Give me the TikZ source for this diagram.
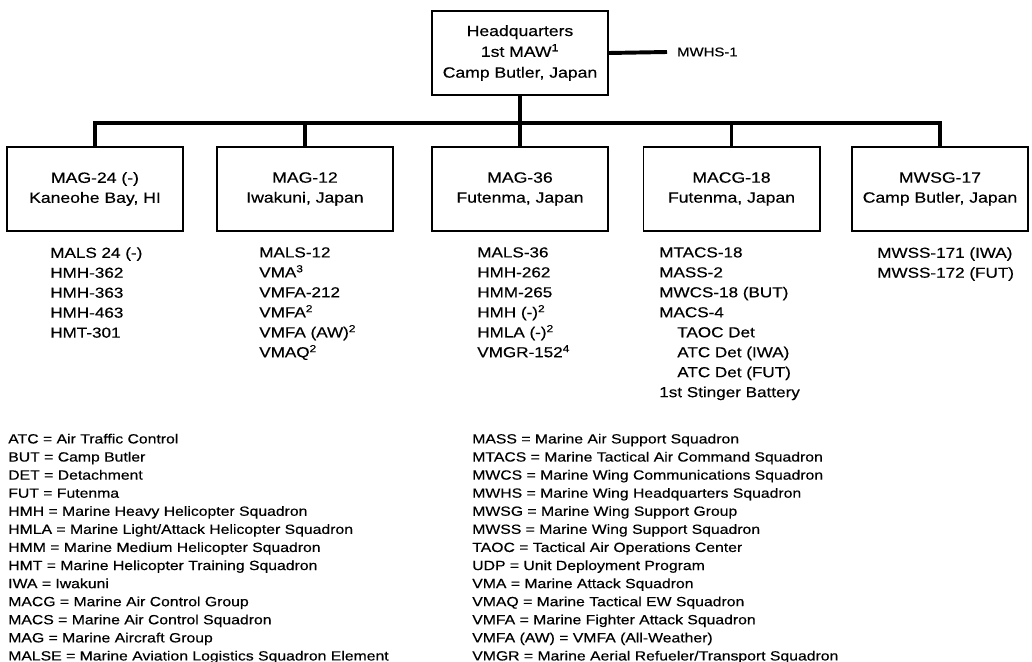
\documentclass[tikz,border=0pt]{standalone}
\usepackage{fontspec}
\setmainfont{Liberation Sans}[FakeStretch=1.18, FakeBold=0.4]

\tikzset{
  unitbox/.style={draw, rectangle, line width=1.4pt, minimum width=4.4cm, minimum height=2.1cm, align=center, font=\fontsize{10.6}{14.2}\selectfont},
  unitlist/.style={anchor=north west, align=left, inner sep=0pt, font=\fontsize{10.3}{14.2}\selectfont},
  keylist/.style={anchor=north west, align=left, inner sep=0pt, font=\fontsize{9.5}{12.86}\selectfont},
  orgline/.style={line width=2.8pt},
}

\begin{document}
\begin{tikzpicture}[x=0.025cm, y=-0.025cm]
\useasboundingbox (0,0) rectangle (1032,662);

% wing headquarters
\node[unitbox, font=\fontsize{10.6}{14.8}\selectfont] (hq) at (520,53) {Headquarters\\1st MAW\textsuperscript{1}\\Camp Butler, Japan};
\node[anchor=west, inner xsep=7pt, inner ysep=0pt, font=\fontsize{9}{11}\selectfont] (mwhs) at (667,52) {MWHS-1};
\draw[orgline] (hq.east) -- (mwhs.west);

% groups
\node[unitbox] (mag24) at (95,189) {MAG-24 (-)\\Kaneohe Bay, HI};
\node[unitbox] (mag12) at (305,189) {MAG-12\\Iwakuni, Japan};
\node[unitbox] (mag36) at (520,189) {MAG-36\\Futenma, Japan};
\node[unitbox] (macg18) at (731.5,189) {MACG-18\\Futenma, Japan};
\node[unitbox] (mwsg17) at (940,189) {MWSG-17\\Camp Butler, Japan};

\coordinate (bus) at (0,123);
\draw[orgline] (hq.south) -- (mag36.north);
\draw[orgline] (mag24.north) -- (mag24.north |- bus) -- (mwsg17.north |- bus) -- (mwsg17.north);
\draw[orgline] (mag12.north) -- (mag12.north |- bus);
\draw[orgline] (macg18.north) -- (macg18.north |- bus);

% squadrons under each group
\node[unitlist] (mag24units) at (50,247) {MALS 24 (-)\\HMH-362\\HMH-363\\HMH-463\\HMT-301};
\node[unitlist] (mag12units) at (259,247) {MALS-12\\VMA\textsuperscript{3}\\VMFA-212\\VMFA\textsuperscript{2}\\VMFA (AW)\textsuperscript{2}\\VMAQ\textsuperscript{2}};
\node[unitlist] (mag36units) at (477,247) {MALS-36\\HMH-262\\HMM-265\\HMH (-)\textsuperscript{2}\\HMLA (-)\textsuperscript{2}\\VMGR-152\textsuperscript{4}};
\node[unitlist] (macg18units) at (659,247) {MTACS-18\\MASS-2\\MWCS-18 (BUT)\\MACS-4\\\hspace*{0.45cm}TAOC Det\\\hspace*{0.45cm}ATC Det (IWA)\\\hspace*{0.45cm}ATC Det (FUT)\\1st Stinger Battery};
\node[unitlist] (mwsg17units) at (877,247) {MWSS-171 (IWA)\\MWSS-172 (FUT)};

% abbreviations
\node[keylist] (keyleft) at (8,433.5) {ATC = Air Traffic Control\\BUT = Camp Butler\\DET = Detachment\\FUT = Futenma\\HMH = Marine Heavy Helicopter Squadron\\HMLA = Marine Light/Attack Helicopter Squadron\\HMM = Marine Medium Helicopter Squadron\\HMT = Marine Helicopter Training Squadron\\IWA = Iwakuni\\MACG = Marine Air Control Group\\MACS = Marine Air Control Squadron\\MAG = Marine Aircraft Group\\MALSE = Marine Aviation Logistics Squadron Element};
\node[keylist] (keyright) at (472,433.5) {MASS = Marine Air Support Squadron\\MTACS = Marine Tactical Air Command Squadron\\MWCS = Marine Wing Communications Squadron\\MWHS = Marine Wing Headquarters Squadron\\MWSG = Marine Wing Support Group\\MWSS = Marine Wing Support Squadron\\TAOC = Tactical Air Operations Center\\UDP = Unit Deployment Program\\VMA = Marine Attack Squadron\\VMAQ = Marine Tactical EW Squadron\\VMFA = Marine Fighter Attack Squadron\\VMFA (AW) = VMFA (All-Weather)\\VMGR = Marine Aerial Refueler/Transport Squadron};
\end{tikzpicture}
\end{document}
